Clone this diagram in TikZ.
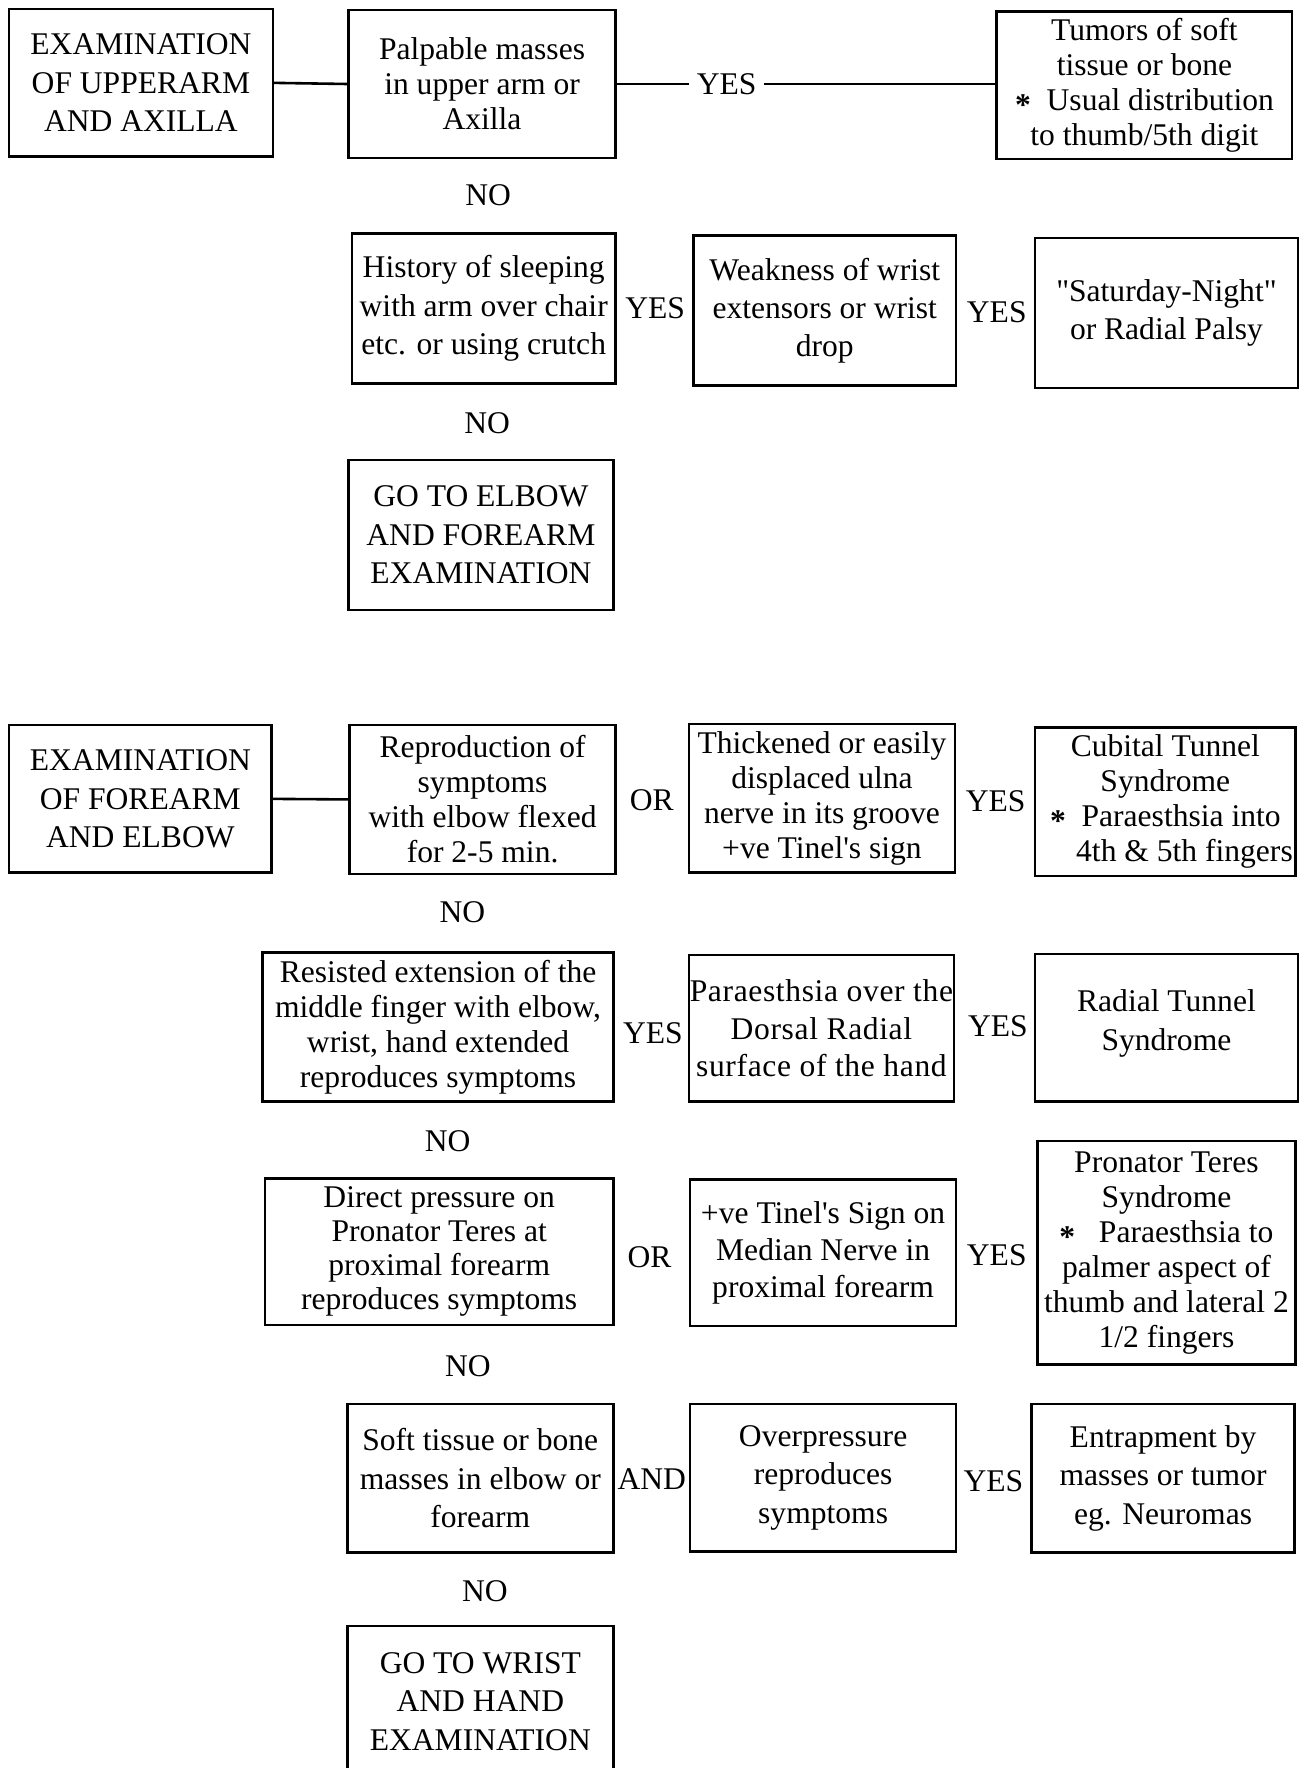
\documentclass[tikz,border=0pt]{standalone}
\usepackage{fontspec}
\setmainfont{Liberation Serif}
\tikzset{
  box/.style={draw, line width=2.3pt, inner sep=0pt, align=center, font=\fontsize{28}{34}\selectfont},
  tight/.style={font=\fontsize{28}{31}\selectfont},
  lbl/.style={font=\fontsize{28}{34}\selectfont, inner sep=2pt},
  conn/.style={line width=2.3pt},
}
\newcommand{\myast}{\raisebox{-0.35ex}{\textbf{*}}}
\newcommand{\mybox}[7][]{%
  \pgfmathsetmacro{\bxcx}{(#3+#5)/2}%
  \pgfmathsetmacro{\bxcy}{-(#4+#6)/2}%
  \pgfmathsetmacro{\bxw}{#5-#3}%
  \pgfmathsetmacro{\bxh}{#6-#4}%
  \node[box,minimum width=\bxw pt,minimum height=\bxh pt,#1] (#2) at (\bxcx,\bxcy) {#7};%
}
\begin{document}
\begin{tikzpicture}[x=1pt,y=1pt]
\useasboundingbox (0,0) rectangle (1153,-1568);
\fill[white] (0,0) rectangle (1153,-1568);
\clip (0,0) rectangle (1153,-1568);

% ---------- upper arm section ----------
\mybox{b1}{8}{8}{242}{139}{EXAMINATION\\OF UPPERARM\\AND AXILLA}
\mybox[tight]{b2}{309}{9}{546}{140}{Palpable masses\\in upper arm or\\Axilla}
\mybox[tight]{b3}{884}{10}{1146}{141}{Tumors of soft\\tissue or bone\\\myast\ \ Usual distribution\\to thumb/5th digit}
\mybox{b4}{312}{207}{546}{340}{History of sleeping\\with arm over chair\\etc. or using crutch}
\mybox{b5}{615}{209}{848}{342}{Weakness of wrist\\extensors or wrist\\drop}
\mybox{b6}{918}{211}{1151}{344}{\textquotedbl Saturday-Night\textquotedbl\\or Radial Palsy}
\mybox{b7}{309}{408}{544}{541}{GO TO ELBOW\\AND FOREARM\\EXAMINATION}

\draw[conn] (b1.east) -- (b2.west);
\draw[conn] (b2.east) -- node[lbl, fill=white, pos=0.29, inner xsep=7pt] (y0) {YES} (b3.west |- b2.east);

\node[lbl] (n1) at (433,-173) {NO};
\node[lbl] (y1) at (581,-273) {YES};
\node[lbl] (y2) at (884,-277) {YES};
\node[lbl] (n2) at (432,-375) {NO};

% ---------- forearm section ----------
\mybox{b8}{8}{643}{241}{774}{EXAMINATION\\OF FOREARM\\AND ELBOW}
\mybox[tight]{b9}{310}{643}{546}{775}{Reproduction of\\symptoms\\with elbow flexed\\for 2-5 min.}
\mybox[tight]{b10}{611}{642}{847}{774}{Thickened or easily\\displaced ulna\\nerve in its groove\\+ve Tinel\textquotesingle s sign}
\mybox[tight]{b11}{918}{645}{1149}{777}{Cubital Tunnel\\Syndrome\\\myast\ \ Paraesthsia into\\\hspace*{34pt}4th \& 5th fingers}
\mybox[tight]{b12}{233}{845}{544}{977}{Resisted extension of the\\middle finger with elbow,\\wrist, hand extended\\reproduces symptoms}
\mybox[font=\fontsize{28}{33}\selectfont\addfontfeature{LetterSpace=2}]{b13}{611}{847}{846}{977}{Paraesthsia over the\\Dorsal Radial\\surface of the hand}
\mybox[text depth=14pt]{b14}{918}{846}{1151}{977}{Radial Tunnel\\Syndrome}
\mybox[font=\fontsize{28}{30}\selectfont]{b15}{235}{1045}{544}{1175}{Direct pressure on\\Pronator Teres at\\proximal forearm\\reproduces symptoms}
\mybox[font=\fontsize{28}{33}\selectfont]{b16}{612}{1046}{848}{1176}{+ve Tinel\textquotesingle s Sign on\\Median Nerve in\\proximal forearm}
\mybox[tight]{b17}{920}{1012}{1149}{1210}{Pronator Teres\\Syndrome\\\myast\ \ \ Paraesthsia to\\palmer aspect of\\thumb and lateral 2\\1/2 fingers}
\mybox{b18}{308}{1245}{544}{1377}{Soft tissue or bone\\masses in elbow or\\forearm}
\mybox{b19}{612}{1245}{848}{1376}{Overpressure\\reproduces\\symptoms}
\mybox{b20}{915}{1245}{1148}{1377}{Entrapment by\\masses or tumor\\eg. Neuromas}
\mybox{b21}{308}{1442}{544}{1576}{GO TO WRIST\\AND HAND\\EXAMINATION}

\draw[conn] (b8.east) -- (b9.west);

\node[lbl] (o1) at (578,-710) {OR};
\node[lbl] (y3) at (883,-711) {YES};
\node[lbl] (n3) at (410,-809) {NO};
\node[lbl] (y4) at (579,-916) {YES};
\node[lbl] (y5) at (885,-910) {YES};
\node[lbl] (n4) at (397,-1012) {NO};
\node[lbl] (o2) at (576,-1115) {OR};
\node[lbl] (y6) at (884,-1113) {YES};
\node[lbl] (n5) at (415,-1212) {NO};
\node[lbl] (a1) at (578,-1312) {AND};
\node[lbl] (y7) at (881,-1314) {YES};
\node[lbl] (n6) at (430,-1411) {NO};
\end{tikzpicture}
\end{document}
